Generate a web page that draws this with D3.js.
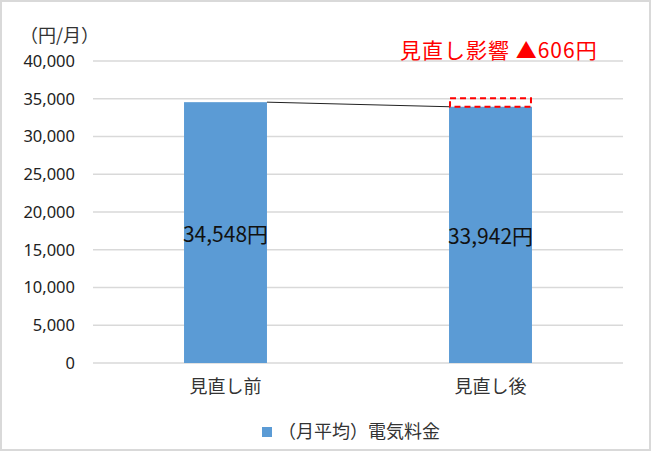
<!DOCTYPE html>
<html>
<head>
<meta charset="utf-8">
<script src="https://cdn.jsdelivr.net/npm/d3@7"></script>
<style>
  body { margin: 0; background: #fff; }
  text { font-family: "Noto Sans CJK JP", "Noto Sans", sans-serif; }
</style>
</head>
<body>
<svg width="651" height="451"></svg>
<script>
var categories = ["見直し前", "見直し後"];
var values = [34548, 33942];
var valueLabels = ["34,548円", "33,942円"];
var yTicks = [0, 5000, 10000, 15000, 20000, 25000, 30000, 35000, 40000];
var seriesName = "（月平均）電気料金";
var unitLabel = "（円/月）";
var impactLabel = "見直し影響 ▲606円";

var svg = d3.select("svg"),
    margin = {top: 61, right: 28, bottom: 88, left: 93},
    width = +svg.attr("width") - margin.left - margin.right,
    height = +svg.attr("height") - margin.top - margin.bottom;

// chart border
svg.append("rect")
    .attr("x", 1).attr("y", 1)
    .attr("width", 649).attr("height", 449)
    .attr("fill", "#fff")
    .attr("stroke", "#d9d9d9")
    .attr("stroke-width", 2);

var x = d3.scaleBand().domain(categories).range([0, width])
    .paddingInner(0.687).paddingOuter(0.3435);
var y = d3.scaleLinear().domain([0, 40000]).range([height, 0]);

var g = svg.append("g")
    .attr("transform", "translate(" + margin.left + "," + margin.top + ")");

// gridlines
g.selectAll(".grid")
  .data(yTicks)
  .enter().append("line")
    .attr("x1", 0).attr("x2", width)
    .attr("y1", function(d) { return y(d); })
    .attr("y2", function(d) { return y(d); })
    .attr("stroke", "#d9d9d9")
    .attr("stroke-width", 1.5);

var yAxis = g.append("g")
    .call(d3.axisLeft(y).tickValues(yTicks).tickSize(0).tickPadding(18)
      .tickFormat(d3.format(",")));
yAxis.select(".domain").remove();
yAxis.selectAll("text")
    .attr("font-size", 16.5)
    .attr("fill", "#222")
    .style("font-family", "'Noto Sans', sans-serif");

var xAxis = g.append("g")
    .attr("transform", "translate(0," + height + ")")
    .call(d3.axisBottom(x).tickSize(0).tickPadding(17));
xAxis.select(".domain").remove();
xAxis.selectAll("text")
    .attr("font-size", 18)
    .attr("fill", "#333");

// bars
g.selectAll(".bar")
  .data(values)
  .enter().append("rect")
    .attr("class", "bar")
    .attr("x", function(d, i) { return x(categories[i]); })
    .attr("y", function(d) { return y(d); })
    .attr("width", x.bandwidth())
    .attr("height", function(d) { return height - y(d); })
    .attr("fill", "#5b9bd5");

// connector line between bar tops
g.append("line")
    .attr("x1", x(categories[0]) + x.bandwidth())
    .attr("y1", y(values[0]))
    .attr("x2", x(categories[1]))
    .attr("y2", y(values[1]))
    .attr("stroke", "#222")
    .attr("stroke-width", 1);

// dashed box for the reduction
g.append("rect")
    .attr("x", x(categories[1]) + 1)
    .attr("y", y(values[0]) - 4)
    .attr("width", x.bandwidth() - 2)
    .attr("height", y(values[1]) - y(values[0]) + 4)
    .attr("fill", "none")
    .attr("stroke", "#ff0000")
    .attr("stroke-width", 2)
    .attr("stroke-dasharray", "6,4");

// data labels
g.selectAll(".vlabel")
  .data(values)
  .enter().append("text")
    .attr("x", function(d, i) { return x(categories[i]) + x.bandwidth() / 2; })
    .attr("y", function(d) { return y(d / 2) + 9; })
    .attr("text-anchor", "middle")
    .attr("font-size", 21)
    .attr("fill", "#111")
    .text(function(d, i) { return valueLabels[i]; });

// unit label
svg.append("text")
    .attr("x", 20).attr("y", 42)
    .attr("font-size", 18)
    .attr("fill", "#333")
    .text(unitLabel);

// impact annotation
svg.append("text")
    .attr("x", 400).attr("y", 58)
    .attr("font-size", 21)
    .attr("letter-spacing", 1)
    .attr("fill", "#ff0000")
    .text(impactLabel);

// legend
svg.append("rect")
    .attr("x", 262).attr("y", 427)
    .attr("width", 10).attr("height", 10)
    .attr("fill", "#5b9bd5");
svg.append("text")
    .attr("x", 278).attr("y", 438)
    .attr("font-size", 18)
    .attr("fill", "#333")
    .text(seriesName);
</script>
</body>
</html>
